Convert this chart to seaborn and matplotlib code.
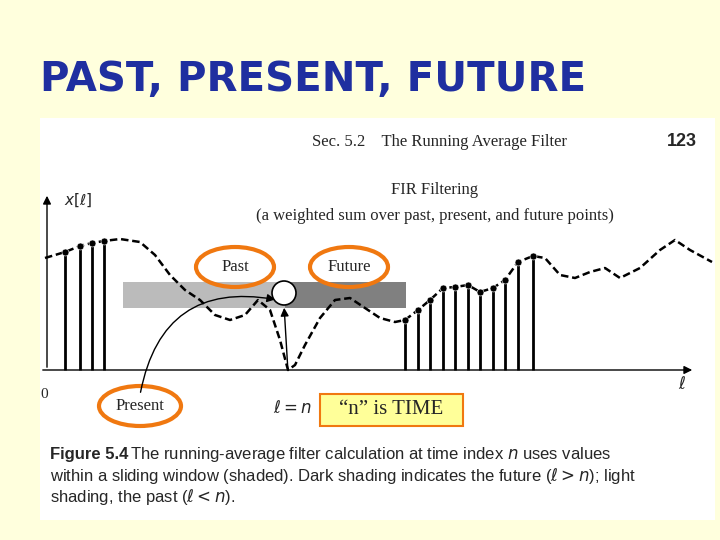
import matplotlib
matplotlib.use("Agg")
import matplotlib.pyplot as plt
import seaborn as sns
import numpy as np
import pandas as pd
from matplotlib.patches import Rectangle, Ellipse, Circle

sns.set_theme(style="white")
plt.rcParams['font.family'] = ['DejaVu Sans']

# curve samples (pixel coordinates of the drawing)
curve_x = [45,65,80,92,104,120,140,155,170,185,200,215,230,245,258,270,280,288,295,305,320,335,350,365,380,395,405,418,430,443,455,468,480,493,505,518,533,545,560,575,590,605,620,640,660,675,690,712]
curve_y = [258,252,246,243,241,239,242,255,275,290,300,315,320,315,300,310,340,370,365,345,318,300,298,308,318,322,320,310,300,288,287,285,292,288,280,262,256,258,275,278,272,268,278,268,250,240,250,262]
past_stems = [65,80,92,104]
future_stems = [405,418,430,443,455,468,480,493,505,518,533]
baseline = 370

fig = plt.figure(figsize=(7.2,5.4), dpi=100)
fig.patch.set_facecolor("#FFFFDD")
ax = fig.add_axes([0,0,1,1])
ax.set_xlim(0,720); ax.set_ylim(540,0); ax.axis("off")

ax.text(40,80,"PAST, PRESENT, FUTURE",fontsize=29,fontweight="bold",color="#1F2FA0",family="DejaVu Sans",va="center")
ax.add_patch(Rectangle((40,118),675,402,facecolor="white",edgecolor="none"))

ax.add_patch(Rectangle((123,282),162,26,facecolor="#BBBBBB",edgecolor="none"))
ax.add_patch(Rectangle((285,282),121,26,facecolor="#808080",edgecolor="none"))

df = pd.DataFrame({"x":curve_x,"y":curve_y})
sns.lineplot(data=df,x="x",y="y",ax=ax,color="black",lw=1.8,linestyle=(0,(3,1.5)),sort=False)
xs = np.array(past_stems+future_stems)
ys = np.interp(xs,curve_x,curve_y)
ax.vlines(xs,ys,baseline,color="black",lw=2)
sns.scatterplot(x=xs,y=ys,ax=ax,color="black",s=25,zorder=5)

ax.annotate("",xy=(47,193),xytext=(47,baseline),arrowprops=dict(arrowstyle="-|>",color="black",lw=1))
ax.annotate("",xy=(695,baseline),xytext=(40,baseline),arrowprops=dict(arrowstyle="-|>",color="black",lw=1))
ax.add_patch(Circle((284,293),12,facecolor="white",edgecolor="black",lw=1.2,zorder=6))
ax.annotate("",xy=(284,305),xytext=(288,372),arrowprops=dict(arrowstyle="-|>",color="black",lw=1))
ax.annotate("",xy=(278,300),xytext=(140,395),arrowprops=dict(arrowstyle="-|>",color="black",lw=1,connectionstyle="arc3,rad=-0.5"))

serif = "Liberation Serif"
ax.text(312,142,"Sec. 5.2    The Running Average Filter",fontsize=12,family=serif,va="center")
ax.text(667,142,"123",fontsize=13,fontweight="bold",va="center",family="Liberation Sans")
ax.text(435,190,"FIR Filtering",fontsize=12,family=serif,ha="center",va="center")
ax.text(435,216,"(a weighted sum over past, present, and future points)",fontsize=12,family=serif,ha="center",va="center")
ax.text(64,200,r"$x[\ell]$",fontsize=11,va="center")
ax.text(40,395,"0",fontsize=11,family=serif,va="center")
ax.text(678,384,r"$\ell$",fontsize=12,va="center")
ax.text(292,408,r"$\ell = n$",fontsize=12,ha="center",va="center")
for (x,y,t,w) in [(235,267,"Past",78),(349,267,"Future",78),(140,406,"Present",82)]:
    ax.text(x,y,t,fontsize=12,family=serif,ha="center",va="center")
    ax.add_patch(Ellipse((x,y),w,40,facecolor="none",edgecolor="#F07810",lw=3))
ax.add_patch(Rectangle((320,394),143,32,facecolor="#FFFF99",edgecolor="#F07810",lw=1.5))
ax.text(391,410,"“n” is TIME",fontsize=15,family=serif,ha="center",va="center")
ax.text(50,454,"Figure 5.4",fontsize=12,fontweight="bold",family="Liberation Sans",va="center")
ax.text(130,454,"The running-average filter calculation at time index $n$ uses values",fontsize=12,family="Liberation Sans",va="center")
ax.text(50,476,"within a sliding window (shaded). Dark shading indicates the future ($\\ell > n$); light",fontsize=12,family="Liberation Sans",va="center")
ax.text(50,497,"shading, the past ($\\ell < n$).",fontsize=12,family="Liberation Sans",va="center")
fig.savefig("out.png",dpi=100)
